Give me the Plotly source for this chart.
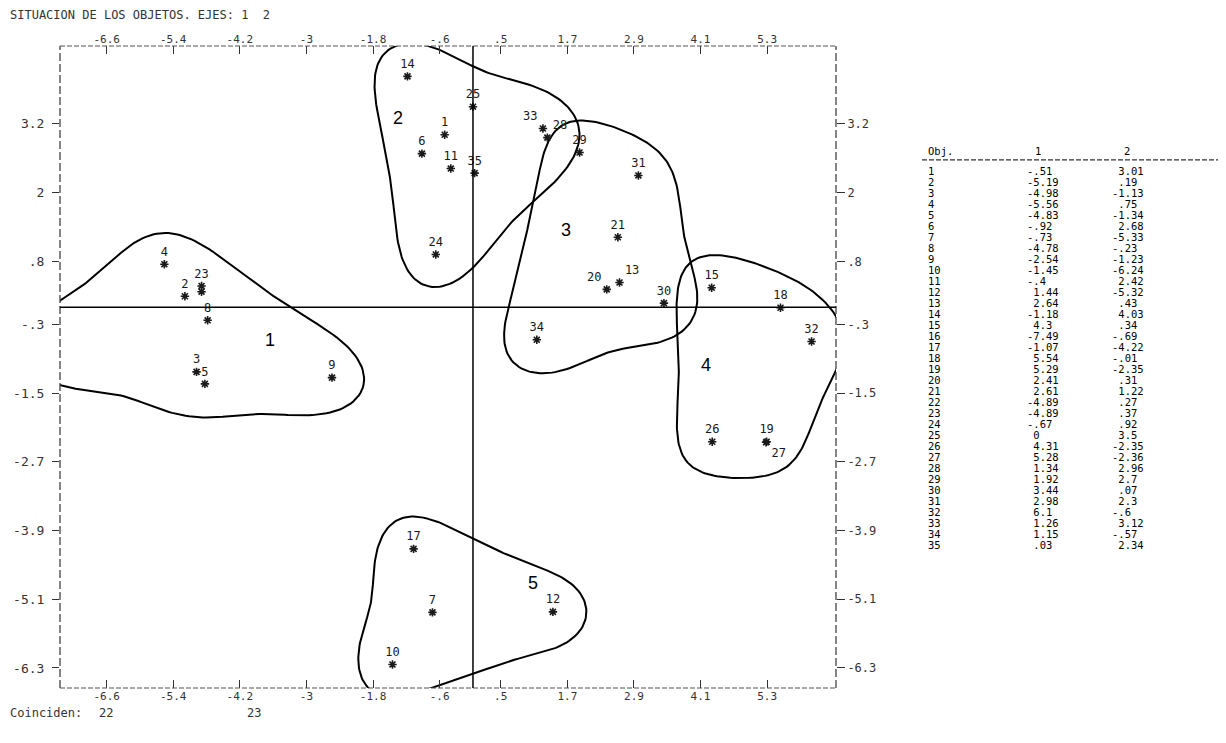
import math
import numpy as np
import plotly.graph_objects as go

obj_id = list(range(1, 36))
dim1 = [-0.51, -5.19, -4.98, -5.56, -4.83, -0.92, -0.73, -4.78, -2.54, -1.45,
        -0.40, 1.44, 2.64, -1.18, 4.30, -7.49, -1.07, 5.54, 5.29, 2.41,
        2.61, -4.89, -4.89, -0.67, 0.00, 4.31, 5.28, 1.34, 1.92, 3.44,
        2.98, 6.10, 1.26, 1.15, 0.03]
dim2 = [3.01, 0.19, -1.13, 0.75, -1.34, 2.68, -5.33, -0.23, -1.23, -6.24,
        2.42, -5.32, 0.43, 4.03, 0.34, -0.69, -4.22, -0.01, -2.35, 0.31,
        1.22, 0.27, 0.37, 0.92, 3.50, -2.35, -2.36, 2.96, 2.70, 0.07,
        2.30, -0.60, 3.12, -0.57, 2.34]
# hand-drawn groups (which outline each object falls in)
cluster = [2, 1, 1, 1, 1, 2, 5, 1, 1, 5,
           2, 5, 3, 2, 4, 1, 5, 4, 4, 3,
           3, 1, 1, 2, 2, 4, 4, 2, 3, 3,
           3, 4, 2, 3, 2]
cluster_names = ["1", "2", "3", "4", "5"]
coincident = [22, 23]

x_tick_text = ["-6.6", "-5.4", "-4.2", "-3", "-1.8", "-.6", ".5", "1.7", "2.9", "4.1", "5.3"]
y_tick_text = ["3.2", "2", ".8", "-.3", "-1.5", "-2.7", "-3.9", "-5.1", "-6.3"]

# ---------------- layout / style settings ----------------
OFF = 8                      # default page margin of the html body
W, H = 1226 - 2 * OFF, 743 - 2 * OFF
ML, MR, MT = 60 - OFF, 0, 46 - OFF
PH = 642
MB = H - MT - PH
PW = W - ML - MR
MAIN_W = 776
XR = [-7.44, 6.54]
YR = [-6.65, 4.56]
SX = MAIN_W / (XR[1] - XR[0])
SY = PH / (YR[1] - YR[0])
MONO = "DejaVu Sans Mono"
INK = "#1a1a1a"
ROW_H = 11.0
label_pos = {16: "top right", 33: "top left", 28: "top right", 20: "top left",
             13: "top right", 27: "bottom right"}
group_label_xy = {"1": (-3.66, -0.58), "2": (-1.35, 3.30), "3": (1.68, 1.34),
                  "4": (4.20, -1.01), "5": (1.08, -4.82)}


def pgx(p):
    return (p - OFF - ML) / PW


def pgy(p):
    return 1 - (p - OFF - MT) / PH


def fmt(v):
    if v == 0:
        return "\u00a00"
    s = f"{abs(v):.2f}".rstrip("0").rstrip(".")
    if s.startswith("0."):
        s = s[1:]
    return ("-" if v < 0 else "\u00a0") + s


def outline(xs, ys, r_px, harmonics=6, n=256):
    """Rounded convex hull of the member points, softened like a hand-drawn loop."""
    pts = sorted(set((x * SX, y * SY) for x, y in zip(xs, ys)))

    def cross(o, a, b):
        return (a[0] - o[0]) * (b[1] - o[1]) - (a[1] - o[1]) * (b[0] - o[0])

    lower, upper = [], []
    for p in pts:
        while len(lower) >= 2 and cross(lower[-2], lower[-1], p) <= 0:
            lower.pop()
        lower.append(p)
    for p in reversed(pts):
        while len(upper) >= 2 and cross(upper[-2], upper[-1], p) <= 0:
            upper.pop()
        upper.append(p)
    hull = lower[:-1] + upper[:-1]
    ring = []
    m = len(hull)
    for i in range(m):
        pp, p, pn = hull[i - 1], hull[i], hull[(i + 1) % m]
        e1 = (p[0] - pp[0], p[1] - pp[1])
        e2 = (pn[0] - p[0], pn[1] - p[1])
        a1 = math.atan2(-e1[0], e1[1])
        a2 = math.atan2(-e2[0], e2[1])
        while a2 < a1:
            a2 += 2 * math.pi
        for t in np.linspace(a1, a2, 24):
            ring.append((p[0] + r_px * math.cos(t), p[1] + r_px * math.sin(t)))
    ring.append(ring[0])
    ring = np.array(ring)
    seg = np.hypot(np.diff(ring[:, 0]), np.diff(ring[:, 1]))
    s = np.concatenate([[0], np.cumsum(seg)])
    u = np.linspace(0, s[-1], n, endpoint=False)
    z = np.interp(u, s, ring[:, 0]) + 1j * np.interp(u, s, ring[:, 1])
    F = np.fft.fft(z)
    k = np.fft.fftfreq(n, 1.0 / n)
    F[np.abs(k) > harmonics] = 0
    zs = np.fft.ifft(F)
    zs = np.append(zs, zs[0])
    return list(zs.real / SX), list(zs.imag / SY)


fig = go.Figure()

# cluster outlines derived from member points
for name in cluster_names:
    c = int(name)
    xs = [x for x, kk in zip(dim1, cluster) if kk == c]
    ys = [y for y, kk in zip(dim2, cluster) if kk == c]
    hx, hy = outline(xs, ys, 34)
    fig.add_trace(go.Scatter(x=hx, y=hy, mode="lines", line=dict(color="black", width=2),
                             hoverinfo="skip", showlegend=False))

hidden = coincident[:-1]
labels = ["" if i in hidden else str(i) for i in obj_id]
positions = [label_pos.get(i, "top center") for i in obj_id]

fig.add_trace(go.Scatter(
    x=dim1, y=dim2, mode="markers+text", text=labels, textposition=positions,
    marker=dict(symbol="asterisk-open", size=7, color=INK, line=dict(color=INK, width=1.6)),
    textfont=dict(family=MONO, size=12, color=INK),
    cliponaxis=False, showlegend=False, hoverinfo="skip"))

# invisible twin for the top / right axes
fig.add_trace(go.Scatter(x=dim1, y=dim2, xaxis="x2", yaxis="y2", mode="markers",
                         marker=dict(opacity=0), showlegend=False, hoverinfo="skip"))

# table on the right
tfont = dict(family=MONO, size=10.5, color="black")
for xpos, col in [(928, [str(i) for i in obj_id]),
                  (1027, [fmt(v) for v in dim1]),
                  (1112, [fmt(v) for v in dim2])]:
    fig.add_trace(go.Scatter(x=[xpos] * len(obj_id), y=obj_id, xaxis="x3", yaxis="y3",
                             mode="text", text=col, textposition="middle right",
                             textfont=tfont, showlegend=False, hoverinfo="skip"))

xt = [float(t) for t in x_tick_text]
yt = [float(t) for t in y_tick_text]
dom_main = [0, MAIN_W / PW]
xfont = dict(family=MONO, size=11, color="#333")
yfont = dict(family=MONO, size=13, color="#333")
xcommon = dict(range=XR, tickvals=xt, ticktext=x_tick_text, ticks="inside", ticklen=8,
               tickwidth=1.2, tickcolor="#333", showgrid=False, zeroline=False,
               showline=False, tickfont=xfont, fixedrange=True, automargin=False)
ycommon = dict(range=YR, tickvals=yt, ticktext=y_tick_text, ticks="outside",
               tickwidth=1.2, tickcolor="#333", showgrid=False, zeroline=False,
               showline=False, fixedrange=True, automargin=False)

row_top = 1 + (46 - 172) / ROW_H
row_bot = 1 + (46 + PH - 172) / ROW_H

fig.update_layout(
    width=W, height=H, margin=dict(l=ML, r=MR, t=MT, b=MB, autoexpand=False),
    paper_bgcolor="white", plot_bgcolor="white",
    xaxis=dict(domain=dom_main, anchor="y", side="bottom", **xcommon),
    xaxis2=dict(overlaying="x", anchor="y", side="top", **xcommon),
    yaxis=dict(domain=[0, 1], anchor="x", side="left", ticklen=7,
               ticklabelstandoff=5, tickfont=yfont, **ycommon),
    yaxis2=dict(overlaying="y", anchor="x", side="right", ticklen=8,
                tickfont=dict(family=MONO, size=12, color="#333"), **ycommon),
    xaxis3=dict(domain=[pgx(920), 1], range=[920, 1226 - OFF], visible=False,
                anchor="y3", fixedrange=True, automargin=False),
    yaxis3=dict(domain=[0, 1], range=[row_bot, row_top], visible=False,
                anchor="x3", fixedrange=True, automargin=False),
    showlegend=False,
)

shapes = [
    # frame drawn like printer characters
    dict(type="line", xref="x domain", yref="y domain", x0=0, x1=0, y0=0, y1=1,
         line=dict(color="#444", width=1.3, dash="8px,3px")),
    dict(type="line", xref="x domain", yref="y domain", x0=1, x1=1, y0=0, y1=1,
         line=dict(color="#444", width=1.3, dash="8px,3px")),
    dict(type="line", xref="x domain", yref="y domain", x0=0, x1=1, y0=1, y1=1,
         line=dict(color="#555", width=1, dash="5px,2px")),
    dict(type="line", xref="x domain", yref="y domain", x0=0, x1=1, y0=0, y1=0,
         line=dict(color="#555", width=1, dash="5px,2px")),
    # hand-drawn axes through the origin
    dict(type="line", xref="x", yref="y domain", x0=0, x1=0, y0=0, y1=1,
         line=dict(color="black", width=1.5)),
    dict(type="line", xref="x domain", yref="y", x0=0, x1=1, y0=0, y1=0,
         line=dict(color="black", width=1.5)),
    # table header rule
    dict(type="line", xref="x3", yref="y3", x0=922, x1=1226 - OFF, y0=-0.1, y1=-0.1,
         line=dict(color="#333", width=1.2, dash="5px,2px")),
]

foot_y = pgy(713)
mfont = dict(family=MONO, size=12, color="#333")
annotations = [
    dict(text="SITUACION DE LOS OBJETOS. EJES: 1  2", xref="paper", yref="paper",
         x=pgx(OFF), y=pgy(15), xanchor="left", yanchor="middle",
         showarrow=False, font=mfont),
    dict(text="Coinciden:", xref="paper", yref="paper", x=pgx(OFF),
         y=foot_y, xanchor="left", yanchor="middle", showarrow=False, font=mfont),
    dict(text=str(coincident[0]), xref="paper", yref="paper", x=pgx(97),
         y=foot_y, xanchor="left", yanchor="middle", showarrow=False, font=mfont),
    dict(text=str(coincident[1]), xref="paper", yref="paper", x=pgx(245),
         y=foot_y, xanchor="left", yanchor="middle", showarrow=False, font=mfont),
    dict(text="Obj.", xref="x3", yref="y3", x=926, y=-0.9, xanchor="left",
         yanchor="middle", showarrow=False, font=tfont),
    dict(text="1", xref="x3", yref="y3", x=1033, y=-0.9, xanchor="left",
         yanchor="middle", showarrow=False, font=tfont),
    dict(text="2", xref="x3", yref="y3", x=1122, y=-0.9, xanchor="left",
         yanchor="middle", showarrow=False, font=tfont),
]
for name in cluster_names:
    gx, gy = group_label_xy[name]
    annotations.append(dict(text=name, x=gx, y=gy, xref="x", yref="y", showarrow=False,
                            font=dict(family="Liberation Sans", size=18, color="black")))

fig.update_layout(shapes=shapes, annotations=annotations)
fig.write_html("out.html")
